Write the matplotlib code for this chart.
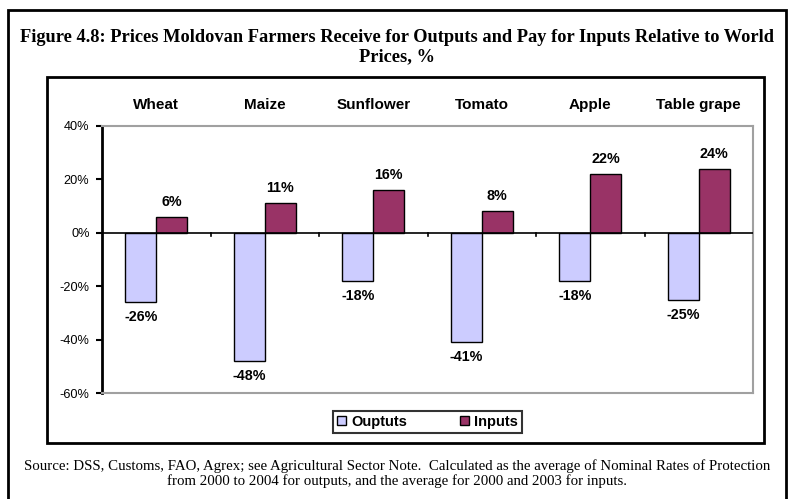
import numpy as np
import matplotlib
matplotlib.use('Agg')
import matplotlib.pyplot as plt
from matplotlib.patches import Rectangle

crops = ['Wheat', 'Maize', 'Sunflower', 'Tomato', 'Apple', 'Table grape']
outputs = [-26, -48, -18, -41, -18, -25]
inputs = [6, 11, 16, 8, 22, 24]
yticks = [-60, -40, -20, 0, 20, 40]

out_color = '#CCCCFF'
in_color = '#993366'
W, H = 794, 499


def fig_box(x0, y0, x1, y1):
    # pixel box (top-left origin) -> figure fraction rect
    return [x0 / W, 1 - y1 / H, (x1 - x0) / W, (y1 - y0) / H]


fig = plt.figure(figsize=(W / 100, H / 100), dpi=100)
plt.rcParams['font.family'] = ['Liberation Sans', 'DejaVu Sans']

# outer frame and inner chart frame
fig.patches.append(Rectangle((8 / W, -0.02), (786 - 8) / W, 1 - 10 / H + 0.02,
                             transform=fig.transFigure, fill=False, lw=2, ec='black'))
fig.patches.append(Rectangle((47 / W, 1 - 443 / H), (764 - 47) / W, (443 - 77) / H,
                             transform=fig.transFigure, fill=False, lw=2, ec='black'))

fig.text(0.5, 1 - 37 / H, 'Figure 4.8: Prices Moldovan Farmers Receive for Outputs and Pay for Inputs Relative to World',
         ha='center', va='center', fontsize=13.2, fontweight='bold', family='Liberation Serif')
fig.text(0.5, 1 - 57 / H, 'Prices, %', ha='center', va='center', fontsize=13.2,
         fontweight='bold', family='Liberation Serif')

ax = fig.add_axes(fig_box(102, 126, 753, 393))
x = np.arange(len(crops))
bw = 0.285
ax.bar(x - bw / 2, outputs, bw, color=out_color, edgecolor='black', lw=1, label='Ouptuts', zorder=2)
ax.bar(x + bw / 2, inputs, bw, color=in_color, edgecolor='black', lw=1, label='Inputs', zorder=2)

for i in range(len(crops)):
    ax.text(x[i] - bw / 2, outputs[i] - 3, f'{outputs[i]}%', ha='center', va='top',
            fontsize=10.3, fontweight='bold')
    ax.text(x[i] + bw / 2, inputs[i] + 3, f'{inputs[i]}%', ha='center', va='bottom',
            fontsize=10.3, fontweight='bold')
    ax.text(x[i], 1.08, crops[i], transform=ax.get_xaxis_transform(), ha='center',
            va='center', fontsize=11, fontweight='bold')

ax.set_xlim(-0.5, len(crops) - 0.5)
ax.set_ylim(-60, 40)
ax.set_yticks(yticks)
ax.set_yticklabels([f'{v}%' for v in yticks], fontsize=9.2)
ax.tick_params(axis='y', direction='out', length=4, width=1.5, pad=5)

# zero line with category separator ticks
ax.axhline(0, color='black', lw=1.2, zorder=3)
for b in np.arange(0.5, len(crops) - 0.5, 1.0):
    ax.plot([b, b], [0, -1.3], color='black', lw=1.2, zorder=3)
ax.set_xticks([])

for s in ['top', 'right', 'bottom']:
    ax.spines[s].set_color('#a0a0a0')
    ax.spines[s].set_linewidth(1.5)
ax.spines['left'].set_linewidth(2)

leg = fig.legend(loc='center', bbox_to_anchor=((327 + 528) / 2 / W, 1 - 422 / H), ncol=2,
                 prop={'weight': 'bold', 'size': 10.5}, frameon=True, fancybox=False,
                 edgecolor='black', handlelength=0.6, handleheight=0.6, columnspacing=3.6,
                 handletextpad=0.4, borderpad=0.25, borderaxespad=0, labelspacing=0)
leg.get_frame().set_linewidth(1.5)

fig.text(0.5, 1 - 466 / H,
         'Source: DSS, Customs, FAO, Agrex; see Agricultural Sector Note.  Calculated as the average of Nominal Rates of Protection',
         ha='center', va='center', fontsize=10.7, family='Liberation Serif')
fig.text(0.5, 1 - 481 / H,
         'from 2000 to 2004 for outputs, and the average for 2000 and 2003 for inputs.',
         ha='center', va='center', fontsize=10.7, family='Liberation Serif')

fig.savefig('out.png', dpi=100)
